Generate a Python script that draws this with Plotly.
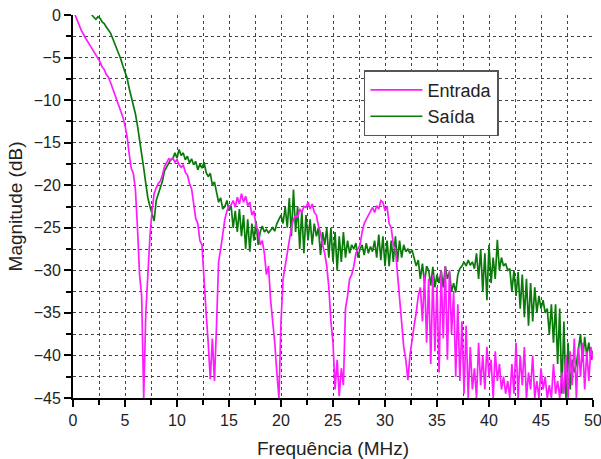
import plotly.graph_objects as go

# Frequency grid (MHz)
freq = [
    0.0, 0.2, 0.4, 0.6, 0.8, 1.0, 1.2, 1.4, 1.6, 1.8,
    2.0, 2.2, 2.4, 2.6, 2.8, 3.0, 3.2, 3.4, 3.6, 3.8,
    4.0, 4.2, 4.4, 4.6, 4.8, 5.0, 5.2, 5.4, 5.6, 5.8,
    6.0, 6.2, 6.4, 6.6, 6.8, 7.0, 7.2, 7.4, 7.6, 7.8,
    8.0, 8.2, 8.4, 8.6, 8.8, 9.0, 9.2, 9.4, 9.6, 9.8,
    10.0, 10.2, 10.4, 10.6, 10.8, 11.0, 11.2, 11.4, 11.6, 11.8,
    12.0, 12.2, 12.4, 12.6, 12.8, 13.0, 13.2, 13.4, 13.6, 13.8,
    14.0, 14.2, 14.4, 14.6, 14.8, 15.0, 15.2, 15.4, 15.6, 15.8,
    16.0, 16.2, 16.4, 16.6, 16.8, 17.0, 17.2, 17.4, 17.6, 17.8,
    18.0, 18.2, 18.4, 18.6, 18.8, 19.0, 19.2, 19.4, 19.6, 19.8,
    20.0, 20.2, 20.4, 20.6, 20.8, 21.0, 21.2, 21.4, 21.6, 21.8,
    22.0, 22.2, 22.4, 22.6, 22.8, 23.0, 23.2, 23.4, 23.6, 23.8,
    24.0, 24.2, 24.4, 24.6, 24.8, 25.0, 25.2, 25.4, 25.6, 25.8,
    26.0, 26.2, 26.4, 26.6, 26.8, 27.0, 27.2, 27.4, 27.6, 27.8,
    28.0, 28.2, 28.4, 28.6, 28.8, 29.0, 29.2, 29.4, 29.6, 29.8,
    30.0, 30.2, 30.4, 30.6, 30.8, 31.0, 31.2, 31.4, 31.6, 31.8,
    32.0, 32.2, 32.4, 32.6, 32.8, 33.0, 33.2, 33.4, 33.6, 33.8,
    34.0, 34.2, 34.4, 34.6, 34.8, 35.0, 35.2, 35.4, 35.6, 35.8,
    36.0, 36.2, 36.4, 36.6, 36.8, 37.0, 37.2, 37.4, 37.6, 37.8,
    38.0, 38.2, 38.4, 38.6, 38.8, 39.0, 39.2, 39.4, 39.6, 39.8,
    40.0, 40.2, 40.4, 40.6, 40.8, 41.0, 41.2, 41.4, 41.6, 41.8,
    42.0, 42.2, 42.4, 42.6, 42.8, 43.0, 43.2, 43.4, 43.6, 43.8,
    44.0, 44.2, 44.4, 44.6, 44.8, 45.0, 45.2, 45.4, 45.6, 45.8,
    46.0, 46.2, 46.4, 46.6, 46.8, 47.0, 47.2, 47.4, 47.6, 47.8,
    48.0, 48.2, 48.4, 48.6, 48.8, 49.0, 49.2, 49.4, 49.6, 49.8,
    50.0,
]

# Entrada (input) magnitude, dB
entrada = [
    None, 0.0, -0.5, -1.2, -1.8, -2.3, -2.7, -3.1, -3.5, -3.9,
    -4.2, -4.6, -5.0, -5.5, -6.1, -6.4, -7.0, -7.3, -7.9, -8.6,
    -9.2, -9.8, -10.5, -11.2, -12.0, -13.0, -14.3, -16.3, -18.0, -18.6,
    -20.5, -25.0, -30.5, -33.0, -45.0, -35.0, -30.0, -26.0, -23.0, -21.0,
    -20.3, -19.8, -19.5, -18.8, -17.8, -17.3, -16.9, -17.0, -16.8, -17.3,
    -17.0, -17.6, -17.9, -17.6, -18.5, -18.8, -19.8, -20.4, -22.3, -23.9,
    -24.5, -26.5, -27.0, -31.5, -35.0, -38.5, -42.8, -38.0, -43.0, -36.5,
    -29.0, -27.5, -25.5, -24.0, -23.0, -22.5, -22.3, -21.8, -22.6, -21.4,
    -22.2, -21.0, -22.0, -21.3, -22.4, -22.0, -23.5, -23.0, -24.8, -25.3,
    -27.0, -26.5, -28.0, -30.5, -29.5, -33.5, -36.0, -38.5, -42.0, -45.0,
    -36.0, -31.0, -29.5, -28.0, -26.0, -25.0, -24.0, -23.5, -23.8, -22.8,
    -23.2, -22.5, -22.6, -22.0, -22.8, -22.2, -23.2, -23.5, -24.8, -25.6,
    -27.0, -28.0, -29.5, -32.0, -36.0, -38.5, -44.0, -40.5, -44.8, -41.5,
    -43.5, -34.5, -33.0, -31.0, -30.5, -29.5, -28.0, -27.5, -27.0, -25.5,
    -24.5, -24.0, -23.5, -23.0, -22.6, -23.2, -22.4, -22.8, -21.8, -22.0,
    -23.0, -22.5, -24.5, -25.0, -27.0, -27.5, -30.5, -34.0, -36.5, -39.0,
    -40.5, -42.9, -40.0, -38.0, -36.5, -35.0, -33.0, -32.0, -36.0, -30.5,
    -38.5, -31.0, -41.0, -30.5, -39.5, -32.0, -42.0, -30.0, -38.0, -29.5,
    -40.5, -30.0, -37.5, -32.5, -42.5, -34.0, -43.0, -36.0, -44.5, -36.5,
    -45.0, -39.0, -44.0, -41.5, -45.0, -38.5, -43.5, -40.0, -44.0, -39.0,
    -42.5, -40.5, -45.0, -39.5, -43.0, -41.0, -44.0, -42.5, -44.5, -43.0,
    -45.0, -41.0, -44.5, -38.5, -45.0, -40.0, -43.5, -39.0, -45.0, -42.0,
    -44.0, -40.0, -45.0, -43.0, -45.0, -41.5, -44.0, -42.5, -45.0, -43.5,
    -45.0, -41.0, -44.5, -43.0, -45.0, -42.0, -44.5, -40.0, -45.0, -39.5,
    -43.5, -38.0, -45.0, -39.0, -42.5, -38.5, -44.0, -39.5, -43.0, -39.0,
    -40.5,
]

# Saída (output) magnitude, dB
saida = [
    None, None, None, None, None, None, None, None, None, 0.0,
    -0.3, -0.5, -0.2, -0.4, -0.8, -1.0, -1.4, -1.7, -2.1, -2.7,
    -3.3, -3.8, -4.5, -5.2, -6.0, -6.8, -7.4, -8.6, -9.6, -10.7,
    -11.6, -13.0, -14.5, -16.0, -18.0, -19.8, -21.5, -22.5, -23.5, -24.2,
    -21.8, -21.0, -20.0, -19.5, -18.3, -17.8, -17.5, -17.0, -16.9, -16.2,
    -16.8, -15.8, -16.5, -16.2, -17.0, -16.6, -17.4, -16.9, -17.6, -17.2,
    -18.2, -17.5, -18.0, -17.3, -18.5, -19.0, -18.6, -20.0, -19.6, -21.0,
    -22.0, -21.5, -22.8, -22.5, -21.8, -23.0, -22.4, -25.0, -23.0, -25.5,
    -22.8, -26.0, -23.5, -27.5, -24.0, -27.8, -24.5, -26.5, -24.2, -27.0,
    -25.5, -24.8, -25.5, -25.2, -25.6, -25.3, -25.0, -25.4, -24.5, -24.0,
    -23.5, -24.5, -22.5, -25.0, -21.5, -26.0, -20.5, -25.5, -22.5, -27.5,
    -23.0, -28.0, -23.5, -26.5, -24.0, -27.0, -24.5, -26.0, -25.0, -28.2,
    -25.5, -27.0, -25.0, -28.5, -25.0, -29.0, -25.5, -30.0, -26.0, -29.0,
    -25.5, -28.5, -26.5, -28.0, -27.0, -27.5, -26.8, -28.5, -27.5, -27.0,
    -28.2, -26.8, -28.0, -27.2, -27.8, -26.5, -28.5, -25.8, -28.8, -26.0,
    -29.5, -26.5, -29.5, -26.5, -29.0, -26.0, -29.0, -26.5, -28.5, -27.0,
    -27.8, -27.5, -28.0, -27.6, -28.5, -29.5, -28.8, -31.0, -29.2, -31.5,
    -29.5, -30.0, -31.8, -29.6, -32.0, -30.5, -31.5, -30.0, -32.0, -29.5,
    -31.0, -30.2, -32.5, -31.5, -32.6, -30.5, -29.8, -29.5, -29.0, -29.5,
    -28.8, -29.4, -29.0, -29.8, -28.0, -31.0, -27.5, -32.5, -28.0, -33.5,
    -27.0, -31.5, -28.5, -31.0, -26.4, -30.0, -28.5, -29.5, -29.2, -30.0,
    -29.8, -32.5, -30.0, -33.0, -30.2, -34.5, -30.5, -35.5, -31.0, -36.5,
    -31.5, -36.0, -32.0, -35.0, -33.0, -34.5, -33.5, -35.0, -34.5, -37.5,
    -34.0, -38.5, -34.0, -41.0, -34.5, -44.5, -36.0, -45.0, -38.5, -44.0,
    -40.5, -42.0, -41.0, -39.5, -37.5, -40.8, -37.8, -40.0, -38.5, -40.5,
    -39.5,
]

x_ticks = [0, 5, 10, 15, 20, 25, 30, 35, 40, 45, 50]
y_ticks = [0, -5, -10, -15, -20, -25, -30, -35, -40, -45]

FONT = "Arial, Liberation Sans, sans-serif"

fig = go.Figure()
fig.add_trace(go.Scatter(x=freq, y=saida, mode="lines", name="Saída",
                         line=dict(color="#0A7A0A", width=1.7), legendrank=2))
fig.add_trace(go.Scatter(x=freq, y=entrada, mode="lines", name="Entrada",
                         line=dict(color="#FF1AFF", width=1.7), legendrank=1))

grid = dict(showgrid=True, gridcolor="#444444", griddash="dot", gridwidth=1)

fig.update_layout(
    width=601, height=459,
    margin=dict(l=73, r=8, t=15, b=61),
    paper_bgcolor="white", plot_bgcolor="white",
    font=dict(family=FONT, size=16, color="#222222"),
    showlegend=True,
    legend=dict(x=0.5596, y=0.856, xanchor="left", yanchor="top",
                bgcolor="white", bordercolor="#555555", borderwidth=1.5,
                font=dict(size=18, color="#222222"),
                tracegroupgap=0, itemwidth=52),
    xaxis=dict(range=[0, 50], tickvals=x_ticks, ticks="outside", ticklen=7,
               tickwidth=1.5, tickcolor="black", showline=True, linecolor="black",
               linewidth=2, zeroline=False, ticklabeloverflow="allow",
               automargin=False,
               title=dict(text="Frequência (MHz)", font=dict(size=19), standoff=14),
               minor=dict(dtick=2.5, ticks="outside", ticklen=5, tickcolor="black",
                          showgrid=True, gridcolor="#444444", griddash="dot"),
               **grid),
    yaxis=dict(range=[-45, 0], tickvals=y_ticks, ticks="outside", ticklen=7,
               tickwidth=1.5, tickcolor="black", showline=True, linecolor="black",
               linewidth=2, zeroline=False, automargin=False,
               title=dict(text="Magnitude (dB)", font=dict(size=19), standoff=6),
               minor=dict(dtick=2.5, ticks="outside", ticklen=5, tickcolor="black",
                          showgrid=True, gridcolor="#444444", griddash="dot"),
               **grid),
)

fig.write_html("out.html")
